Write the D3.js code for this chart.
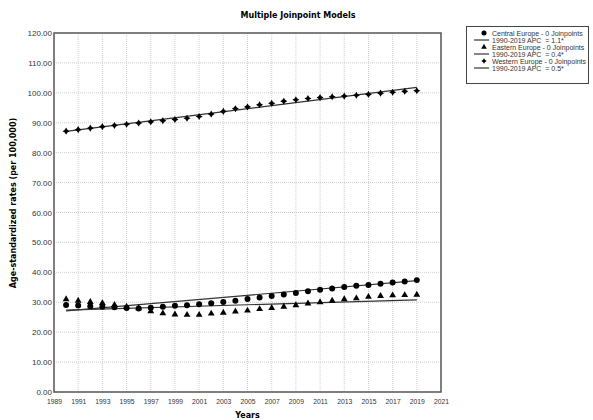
<!DOCTYPE html>
<html>
<head>
<meta charset="utf-8">
<script src="https://cdn.jsdelivr.net/npm/d3@7"></script>
<style>
  html, body { margin: 0; padding: 0; background: #fff; }
  svg { display: block; }
</style>
</head>
<body>
<svg id="chart" width="593" height="420"></svg>
<script>
const years = d3.range(1990, 2020);
const central = [29.1, 28.9, 28.7, 28.5, 28.3, 28.1, 27.9, 28.2, 28.5, 28.8, 29.0, 29.3, 29.7, 30.1, 30.5, 31.1, 31.6, 32.1, 32.6, 33.1, 33.7, 34.2, 34.6, 35.1, 35.5, 35.8, 36.2, 36.6, 36.9, 37.4];
const eastern = [31.0, 30.5, 30.1, 29.7, 29.1, 28.5, 28.0, 27.0, 26.3, 25.9, 25.8, 25.8, 26.2, 26.5, 26.9, 27.2, 27.7, 28.1, 28.5, 29.0, 29.6, 30.0, 30.5, 31.0, 31.3, 31.8, 32.1, 32.3, 32.4, 32.5];
const western = [87.2, 87.7, 88.2, 88.7, 89.1, 89.5, 89.9, 90.3, 90.7, 91.1, 91.5, 92.1, 92.9, 93.8, 94.7, 95.3, 96.0, 96.5, 97.2, 97.7, 98.1, 98.4, 98.7, 98.9, 99.2, 99.5, 99.9, 100.2, 100.5, 100.7];
// fitted trend endpoints (1990, 2019)
const trendYears = [1990, 2019];
const centralTrend = [27.1, 37.2];
const easternTrend = [27.4, 30.8];
const westernTrend = [87.1, 101.8];
const xTicks = d3.range(1989, 2022, 2);
const yTicks = d3.range(0, 121, 10);
const legendLabels = [
  "Central Europe - 0 Joinpoints", "1990-2019 APC  = 1.1*",
  "Eastern Europe - 0 Joinpoints", "1990-2019 APC  = 0.4*",
  "Western Europe - 0 Joinpoints", "1990-2019 APC  = 0.5*"
];

const svg = d3.select("#chart");
const m = {left: 54, right: 441, top: 33, bottom: 392};
const x = d3.scaleLinear().domain([1989, 2021]).range([m.left, m.right]);
const y = d3.scaleLinear().domain([0, 120]).range([m.bottom, m.top]);

// grid
const grid = svg.append("g");
grid.selectAll(".gx").data(xTicks.slice(1, -1)).join("line")
  .attr("x1", d => x(d)).attr("x2", d => x(d))
  .attr("y1", m.top).attr("y2", m.bottom)
  .attr("stroke", "#cfcfcf").attr("stroke-width", 1).attr("stroke-dasharray", "1,1");
grid.selectAll(".gy").data(yTicks.slice(1, -1)).join("line")
  .attr("y1", d => y(d)).attr("y2", d => y(d))
  .attr("x1", m.left).attr("x2", m.right)
  .attr("stroke", "#cfcfcf").attr("stroke-width", 1).attr("stroke-dasharray", "1,1");

// axes
const yAxis = d3.axisLeft(y).tickValues(yTicks).tickSize(0).tickPadding(2).tickFormat(d3.format(".2f"));
const gy = svg.append("g").attr("transform", `translate(${m.left},0)`).call(yAxis);
gy.select(".domain").remove();
gy.selectAll("text").attr("font-family", "Liberation Sans, Arial, sans-serif").attr("font-size", "8px").attr("fill", "#333");

const xAxis = d3.axisBottom(x).tickValues(xTicks).tickSize(0).tickPadding(7).tickFormat(d3.format("d"));
const gx = svg.append("g").attr("transform", `translate(0,${m.bottom})`).call(xAxis);
gx.select(".domain").remove();
gx.selectAll("text").attr("font-family", "Liberation Sans, Arial, sans-serif").attr("font-size", "6.8px").attr("fill", "#333");

// frame
svg.append("rect").attr("x", m.left).attr("y", m.top)
  .attr("width", m.right - m.left).attr("height", m.bottom - m.top)
  .attr("fill", "none").attr("stroke", "#555").attr("stroke-width", 1.5);

// trend lines
const line = d3.line().x(d => x(d[0])).y(d => y(d[1]));
[centralTrend, easternTrend, westernTrend].forEach(t => {
  svg.append("path").datum(trendYears.map((yr, i) => [yr, t[i]]))
    .attr("d", line).attr("fill", "none").attr("stroke", "#333").attr("stroke-width", 1.2);
});

// custom 4-point star
const star4 = {
  draw(ctx, size) {
    const r = Math.sqrt(size) * 0.75, k = r * 0.38;
    ctx.moveTo(0, -r); ctx.lineTo(k, -k); ctx.lineTo(r, 0); ctx.lineTo(k, k);
    ctx.lineTo(0, r); ctx.lineTo(-k, k); ctx.lineTo(-r, 0); ctx.lineTo(-k, -k); ctx.closePath();
  }
};
const symCircle = d3.symbol().type(d3.symbolCircle).size(28);
const symTri = d3.symbol().type(d3.symbolTriangle).size(20);
const symStar = d3.symbol().type(star4).size(22);

function points(vals, sym) {
  svg.append("g").selectAll("path").data(vals).join("path")
    .attr("transform", (d, i) => `translate(${x(years[i])},${y(d)})`)
    .attr("d", sym).attr("fill", "#000");
}
points(eastern, symTri);
points(central, symCircle);
points(western, symStar);

// title & axis titles
svg.append("text").attr("x", 298).attr("y", 18).attr("text-anchor", "middle")
  .attr("font-family", "DejaVu Sans, Verdana, sans-serif").attr("font-weight", "bold").attr("font-size", "8px")
  .text("Multiple Joinpoint Models");
svg.append("text").attr("x", (m.left + m.right) / 2).attr("y", 418).attr("text-anchor", "middle")
  .attr("font-family", "DejaVu Sans, Verdana, sans-serif").attr("font-weight", "bold").attr("font-size", "8px")
  .text("Years");
svg.append("text").attr("transform", "translate(16,203) rotate(-90)").attr("text-anchor", "middle")
  .attr("font-family", "DejaVu Sans, Verdana, sans-serif").attr("font-weight", "bold").attr("font-size", "8px")
  .text("Age-standardized rates (per 100,000)");

// legend
const lg = svg.append("g");
lg.append("rect").attr("x", 466.5).attr("y", 26.5).attr("width", 122).attr("height", 57)
  .attr("fill", "#fff").attr("stroke", "#444").attr("stroke-width", 1);
const rowY = i => 33 + i * 7;
const legendSyms = [
  d3.symbol().type(d3.symbolCircle).size(20),
  d3.symbol().type(d3.symbolTriangle).size(14),
  d3.symbol().type(star4).size(14)
];
legendLabels.forEach((lab, i) => {
  const yy = rowY(i);
  if (i % 2 === 0) {
    lg.append("path").attr("transform", `translate(484,${yy})`).attr("d", legendSyms[i / 2]).attr("fill", "#000");
  } else {
    lg.append("line").attr("x1", 474).attr("x2", 489).attr("y1", yy).attr("y2", yy)
      .attr("stroke", "#333").attr("stroke-width", 1.2);
  }
  lg.append("text").attr("x", 492).attr("y", yy + 2.5)
    .attr("font-family", "Liberation Sans, Arial, sans-serif").attr("font-size", "7px").attr("fill", "#333")
    .attr("xml:space", "preserve").style("white-space", "pre")
    .text(lab);
});
</script>
</body>
</html>
